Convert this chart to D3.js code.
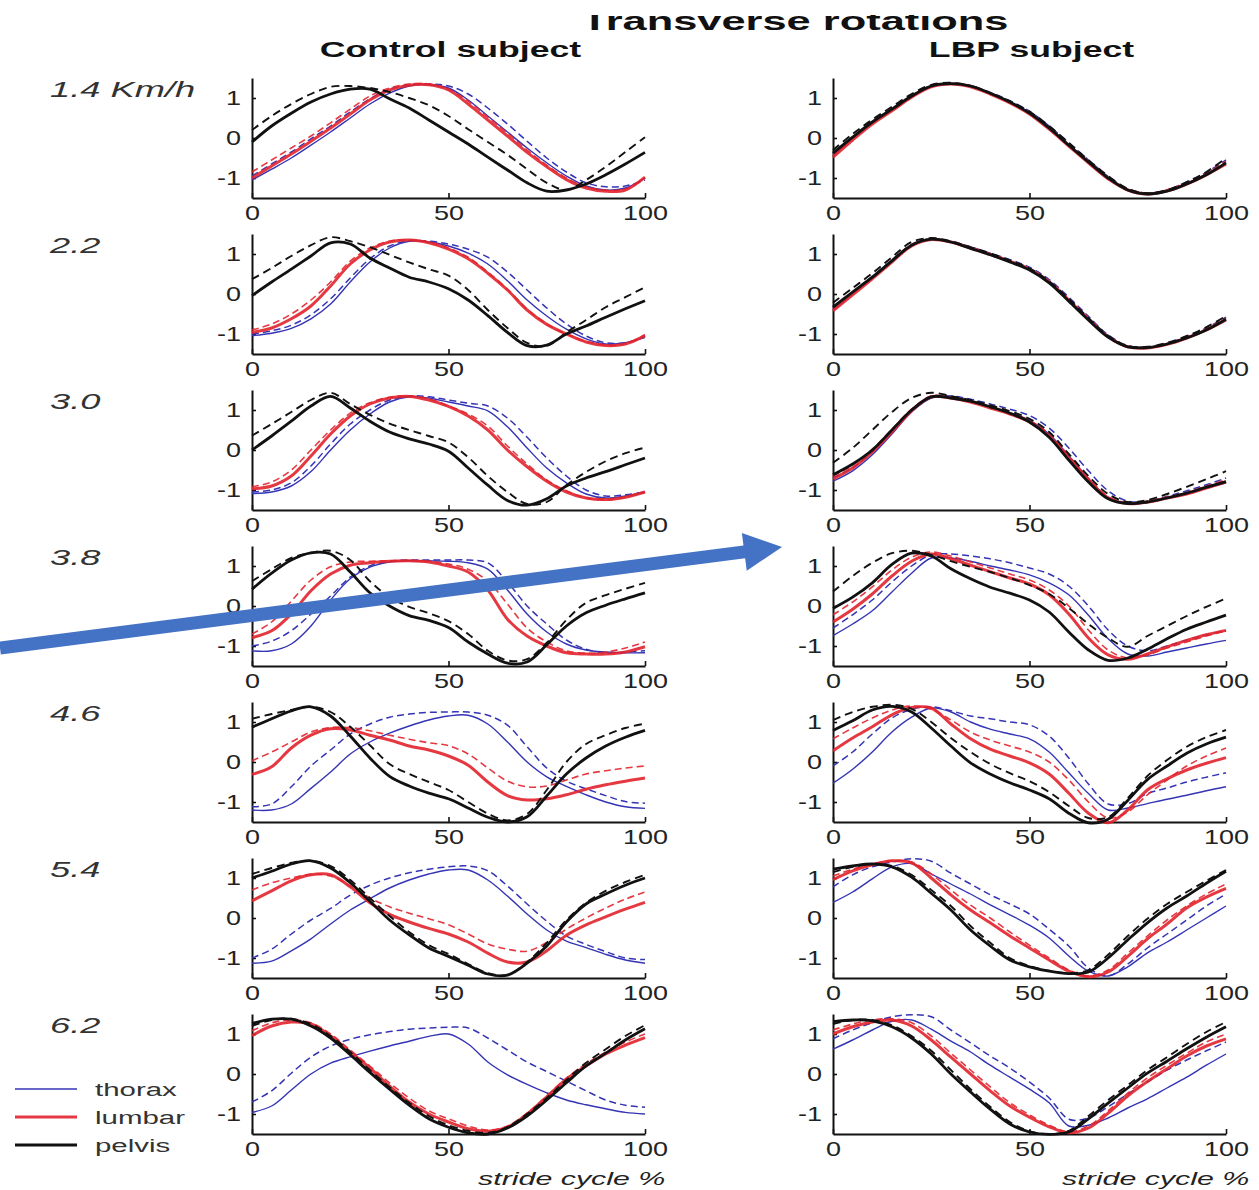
<!DOCTYPE html>
<html>
<head>
<meta charset="utf-8">
<script src="https://cdn.jsdelivr.net/npm/d3@7"></script>
<style>
  html, body { margin: 0; padding: 0; background: #fff; }
  svg { display: block; }
</style>
</head>
<body>
<svg id="chart" width="1259" height="1190"></svg>
<script>
// ---------------------------------------------------------------------------
// Data: transverse rotations (normalised) over the stride cycle, sampled every 5 %
// ---------------------------------------------------------------------------
const stridePct = [0,5,10,15,20,25,30,35,40,45,50,55,60,65,70,75,80,85,90,95,100];
const speeds = ["1.4 Km/h", "2.2", "3.0", "3.8", "4.6", "5.4", "6.2"];
const subjects = ["Control subject", "LBP subject"];
const segments = ["thorax", "lumbar", "pelvis"];
const xTicks = [0, 50, 100];
const xTickLabels = ["0", "50", "100"];
const yTicks = [-1, 0, 1];
const yTickLabels = ["-1", "0", "1"];

// Control subject (one row per walking speed)
const controlThorax = [
  [-1.05,-0.78,-0.5,-0.18,0.15,0.5,0.85,1.12,1.3,1.33,1.25,0.95,0.55,0.15,-0.25,-0.62,-0.95,-1.2,-1.3,-1.25,-1.0],
  [-1.04,-0.98,-0.86,-0.62,-0.25,0.3,0.8,1.15,1.32,1.3,1.2,1.02,0.75,0.33,-0.15,-0.55,-0.88,-1.12,-1.25,-1.22,-1.08],
  [-1.09,-1.05,-0.9,-0.54,0.0,0.5,0.9,1.2,1.33,1.3,1.2,1.1,0.98,0.58,0.05,-0.45,-0.82,-1.1,-1.2,-1.15,-1.05],
  [-1.12,-1.12,-0.95,-0.5,0.15,0.68,0.97,1.1,1.13,1.13,1.12,1.08,0.92,0.4,-0.2,-0.65,-0.95,-1.1,-1.15,-1.17,-1.17],
  [-1.2,-1.2,-1.05,-0.66,-0.25,0.2,0.5,0.72,0.9,1.05,1.15,1.17,0.95,0.5,0.0,-0.37,-0.61,-0.82,-1.0,-1.12,-1.16],
  [-1.13,-1.08,-0.82,-0.52,-0.15,0.2,0.48,0.75,0.95,1.1,1.2,1.2,0.95,0.55,0.1,-0.3,-0.58,-0.74,-0.91,-1.05,-1.13],
  [-0.96,-0.8,-0.4,0.0,0.27,0.43,0.57,0.7,0.82,0.94,1.0,0.75,0.3,-0.02,-0.26,-0.47,-0.65,-0.77,-0.87,-0.96,-1.0]
];
const controlThoraxDashed = [
  [-0.95,-0.65,-0.35,-0.02,0.3,0.65,0.98,1.22,1.33,1.35,1.3,1.1,0.75,0.35,-0.08,-0.5,-0.85,-1.12,-1.22,-1.2,-1.05],
  [-1.0,-0.92,-0.78,-0.52,-0.12,0.4,0.88,1.2,1.33,1.32,1.25,1.12,0.92,0.55,0.1,-0.35,-0.75,-1.05,-1.22,-1.22,-1.08],
  [-1.05,-1.0,-0.82,-0.4,0.15,0.65,1.0,1.25,1.35,1.33,1.25,1.17,1.1,0.8,0.32,-0.2,-0.65,-1.0,-1.15,-1.12,-1.05],
  [-1.0,-0.88,-0.62,-0.2,0.25,0.72,1.0,1.12,1.15,1.15,1.15,1.15,1.08,0.6,0.0,-0.45,-0.85,-1.08,-1.17,-1.15,-1.12],
  [-1.12,-1.05,-0.62,-0.1,0.3,0.7,0.95,1.12,1.2,1.24,1.25,1.25,1.17,0.92,0.38,-0.15,-0.48,-0.67,-0.84,-0.99,-1.03],
  [-1.0,-0.78,-0.4,-0.05,0.24,0.57,0.82,1.0,1.13,1.22,1.28,1.3,1.18,0.8,0.35,-0.08,-0.45,-0.66,-0.84,-1.0,-1.04],
  [-0.7,-0.42,0.02,0.42,0.7,0.87,0.98,1.06,1.12,1.15,1.17,1.15,0.9,0.6,0.3,0.06,-0.18,-0.42,-0.65,-0.78,-0.83]
];
const controlLumbar = [
  [-1.0,-0.7,-0.4,-0.08,0.25,0.6,0.95,1.2,1.32,1.33,1.2,0.85,0.45,0.05,-0.36,-0.72,-1.04,-1.25,-1.33,-1.3,-0.98],
  [-0.96,-0.85,-0.62,-0.3,0.2,0.75,1.1,1.3,1.35,1.28,1.12,0.88,0.52,0.1,-0.4,-0.76,-1.0,-1.2,-1.29,-1.25,-1.04],
  [-0.97,-0.9,-0.65,-0.15,0.4,0.85,1.15,1.3,1.34,1.25,1.09,0.85,0.5,0.0,-0.42,-0.78,-1.05,-1.2,-1.24,-1.18,-1.05],
  [-0.79,-0.62,-0.2,0.38,0.8,1.02,1.08,1.12,1.13,1.1,1.0,0.85,0.4,-0.33,-0.75,-1.0,-1.17,-1.2,-1.2,-1.15,-1.02],
  [-0.31,-0.12,0.35,0.67,0.83,0.8,0.67,0.55,0.4,0.3,0.15,-0.08,-0.5,-0.84,-0.95,-0.92,-0.82,-0.68,-0.57,-0.48,-0.4],
  [0.43,0.68,0.93,1.08,1.08,0.78,0.38,0.09,-0.1,-0.26,-0.4,-0.6,-0.88,-1.1,-1.1,-0.82,-0.43,-0.17,0.03,0.22,0.39],
  [0.96,1.2,1.3,1.25,0.95,0.55,0.15,-0.3,-0.7,-1.0,-1.2,-1.37,-1.43,-1.33,-1.0,-0.57,-0.13,0.2,0.5,0.72,0.91]
];
const controlLumbarDashed = [
  [-0.85,-0.55,-0.25,0.05,0.38,0.72,1.05,1.25,1.35,1.35,1.22,0.92,0.52,0.12,-0.3,-0.68,-1.0,-1.22,-1.3,-1.28,-1.0],
  [-0.9,-0.75,-0.5,-0.15,0.3,0.82,1.15,1.32,1.35,1.3,1.15,0.92,0.55,0.12,-0.38,-0.75,-1.0,-1.18,-1.28,-1.25,-1.02],
  [-0.92,-0.8,-0.5,0.0,0.5,0.92,1.18,1.32,1.35,1.28,1.1,0.9,0.6,0.1,-0.35,-0.75,-1.02,-1.2,-1.24,-1.18,-1.05],
  [-0.7,-0.4,0.12,0.65,0.98,1.1,1.12,1.13,1.13,1.12,1.05,0.92,0.62,0.05,-0.55,-0.9,-1.12,-1.18,-1.15,-1.05,-0.9],
  [0.03,0.25,0.5,0.75,0.86,0.86,0.78,0.67,0.57,0.48,0.41,0.2,-0.15,-0.48,-0.62,-0.6,-0.45,-0.3,-0.22,-0.15,-0.1],
  [0.7,0.88,1.0,1.09,1.05,0.8,0.5,0.28,0.12,-0.02,-0.17,-0.4,-0.65,-0.78,-0.83,-0.61,-0.28,0.0,0.25,0.47,0.65],
  [1.08,1.28,1.35,1.28,1.0,0.6,0.2,-0.22,-0.6,-0.92,-1.12,-1.3,-1.4,-1.3,-0.98,-0.55,-0.1,0.25,0.55,0.8,1.0]
];
const controlPelvis = [
  [-0.1,0.3,0.62,0.9,1.1,1.22,1.22,0.98,0.75,0.45,0.15,-0.15,-0.48,-0.8,-1.12,-1.33,-1.3,-1.15,-0.92,-0.65,-0.36],
  [-0.04,0.3,0.62,0.95,1.28,1.25,0.9,0.65,0.42,0.3,0.13,-0.15,-0.54,-0.96,-1.29,-1.28,-1.0,-0.8,-0.58,-0.37,-0.17],
  [0.0,0.35,0.72,1.1,1.34,1.05,0.72,0.45,0.28,0.15,-0.03,-0.45,-0.88,-1.26,-1.38,-1.22,-0.9,-0.7,-0.54,-0.37,-0.2],
  [0.42,0.82,1.15,1.33,1.3,0.85,0.33,0.0,-0.24,-0.36,-0.54,-0.9,-1.2,-1.43,-1.4,-0.97,-0.5,-0.17,0.02,0.18,0.33],
  [0.87,1.08,1.28,1.38,1.15,0.65,0.1,-0.36,-0.6,-0.78,-0.92,-1.15,-1.38,-1.5,-1.37,-0.85,-0.3,0.1,0.4,0.62,0.79],
  [1.0,1.17,1.35,1.43,1.25,0.88,0.42,-0.05,-0.42,-0.75,-0.96,-1.18,-1.4,-1.43,-1.13,-0.7,-0.1,0.35,0.6,0.82,1.0],
  [1.26,1.37,1.37,1.2,0.9,0.48,0.04,-0.38,-0.78,-1.12,-1.33,-1.47,-1.5,-1.35,-1.05,-0.65,-0.22,0.2,0.52,0.85,1.13]
];
const controlPelvisDashed = [
  [0.2,0.55,0.85,1.1,1.28,1.3,1.25,1.15,1.0,0.82,0.55,0.22,-0.1,-0.42,-0.78,-1.12,-1.3,-1.05,-0.72,-0.35,0.02],
  [0.37,0.65,0.95,1.22,1.42,1.32,1.17,0.98,0.79,0.62,0.46,0.1,-0.4,-0.85,-1.22,-1.3,-0.96,-0.65,-0.33,-0.08,0.17],
  [0.36,0.65,0.95,1.25,1.43,1.15,0.88,0.66,0.5,0.35,0.19,-0.18,-0.65,-1.05,-1.35,-1.3,-0.88,-0.55,-0.28,-0.08,0.06],
  [0.62,0.92,1.2,1.33,1.38,1.15,0.62,0.22,-0.02,-0.18,-0.38,-0.7,-1.12,-1.36,-1.33,-0.92,-0.35,0.08,0.27,0.43,0.58],
  [1.08,1.2,1.3,1.38,1.25,0.88,0.42,-0.05,-0.3,-0.5,-0.7,-1.0,-1.29,-1.46,-1.3,-0.7,0.0,0.45,0.67,0.85,0.96],
  [1.1,1.25,1.38,1.43,1.3,0.95,0.5,0.05,-0.35,-0.68,-0.9,-1.15,-1.38,-1.42,-1.1,-0.62,-0.05,0.38,0.68,0.9,1.08],
  [1.2,1.35,1.38,1.25,0.95,0.55,0.1,-0.33,-0.72,-1.05,-1.28,-1.42,-1.47,-1.33,-1.0,-0.6,-0.15,0.28,0.62,0.95,1.22]
];

// LBP subject (one row per walking speed)
const lbpThorax = [
  [-0.45,-0.02,0.38,0.7,1.03,1.28,1.35,1.29,1.11,0.89,0.62,0.24,-0.18,-0.6,-1.0,-1.3,-1.4,-1.32,-1.14,-0.9,-0.62],
  [-0.4,0.0,0.4,0.82,1.21,1.36,1.3,1.15,0.99,0.81,0.61,0.3,-0.16,-0.64,-1.08,-1.32,-1.35,-1.26,-1.1,-0.9,-0.64],
  [-0.78,-0.52,-0.12,0.4,0.95,1.3,1.32,1.22,1.08,0.93,0.74,0.4,-0.15,-0.72,-1.18,-1.34,-1.31,-1.2,-1.1,-0.96,-0.82],
  [-0.74,-0.45,-0.12,0.35,0.82,1.2,1.2,1.12,1.0,0.9,0.78,0.58,0.28,-0.23,-0.82,-1.2,-1.25,-1.15,-1.05,-0.95,-0.86],
  [-0.53,-0.18,0.25,0.75,1.12,1.35,1.25,1.0,0.82,0.7,0.58,0.25,-0.27,-0.79,-1.2,-1.15,-1.04,-0.93,-0.83,-0.72,-0.62],
  [0.39,0.65,0.98,1.28,1.36,1.1,0.85,0.6,0.33,0.08,-0.18,-0.5,-0.95,-1.33,-1.45,-1.22,-0.87,-0.6,-0.3,0.0,0.3],
  [0.62,0.85,1.1,1.32,1.35,1.12,0.82,0.55,0.22,-0.08,-0.38,-0.72,-1.3,-1.28,-1.1,-0.85,-0.62,-0.35,-0.08,0.22,0.5]
];
const lbpThoraxDashed = [
  [-0.4,0.02,0.4,0.72,1.05,1.3,1.37,1.31,1.14,0.93,0.67,0.3,-0.12,-0.55,-0.96,-1.27,-1.38,-1.3,-1.1,-0.86,-0.55],
  [-0.34,0.05,0.44,0.85,1.24,1.38,1.32,1.18,1.02,0.86,0.67,0.36,-0.08,-0.56,-1.02,-1.29,-1.33,-1.24,-1.06,-0.85,-0.58],
  [-0.7,-0.44,-0.05,0.48,1.0,1.33,1.35,1.27,1.15,1.02,0.86,0.55,0.05,-0.52,-1.02,-1.28,-1.28,-1.16,-1.02,-0.87,-0.7],
  [-0.55,-0.22,0.15,0.6,1.0,1.28,1.3,1.25,1.18,1.08,0.95,0.8,0.5,0.0,-0.6,-1.0,-1.12,-1.0,-0.85,-0.72,-0.62],
  [-0.1,0.25,0.7,1.1,1.32,1.38,1.28,1.15,1.08,1.0,0.93,0.65,0.1,-0.55,-1.05,-1.04,-0.79,-0.65,-0.5,-0.38,-0.27],
  [0.78,1.08,1.28,1.4,1.48,1.42,1.12,0.85,0.58,0.35,0.1,-0.28,-0.7,-1.25,-1.45,-1.15,-0.75,-0.4,-0.05,0.3,0.6],
  [0.88,1.1,1.28,1.43,1.48,1.43,1.1,0.78,0.45,0.15,-0.2,-0.6,-1.13,-1.1,-0.82,-0.5,-0.2,0.1,0.35,0.58,0.8]
];
const lbpLumbar = [
  [-0.48,-0.05,0.35,0.68,1.02,1.28,1.35,1.28,1.1,0.88,0.6,0.22,-0.2,-0.62,-1.02,-1.3,-1.4,-1.32,-1.15,-0.92,-0.65],
  [-0.42,-0.02,0.38,0.8,1.2,1.36,1.3,1.15,0.99,0.82,0.62,0.3,-0.15,-0.63,-1.07,-1.32,-1.35,-1.26,-1.1,-0.9,-0.65],
  [-0.72,-0.45,-0.05,0.45,0.98,1.33,1.3,1.2,1.05,0.9,0.7,0.35,-0.2,-0.75,-1.2,-1.34,-1.3,-1.2,-1.1,-0.95,-0.8],
  [-0.4,-0.08,0.3,0.75,1.12,1.3,1.18,1.02,0.86,0.7,0.55,0.28,-0.2,-0.8,-1.22,-1.33,-1.2,-1.02,-0.86,-0.72,-0.61],
  [0.28,0.6,0.88,1.18,1.36,1.35,0.95,0.58,0.32,0.15,-0.02,-0.3,-0.78,-1.28,-1.52,-1.2,-0.7,-0.42,-0.2,-0.03,0.11],
  [0.96,1.18,1.33,1.43,1.38,1.0,0.58,0.2,-0.12,-0.45,-0.75,-1.05,-1.33,-1.47,-1.35,-0.96,-0.52,-0.15,0.25,0.52,0.74],
  [1.0,1.18,1.3,1.35,1.2,0.85,0.42,0.0,-0.42,-0.8,-1.08,-1.32,-1.47,-1.35,-0.98,-0.55,-0.19,0.13,0.45,0.7,0.88]
];
const lbpLumbarDashed = [
  [-0.42,0.0,0.38,0.7,1.04,1.3,1.36,1.3,1.12,0.9,0.63,0.26,-0.15,-0.58,-0.98,-1.28,-1.38,-1.3,-1.12,-0.88,-0.58],
  [-0.36,0.03,0.42,0.84,1.23,1.37,1.31,1.16,1.0,0.83,0.63,0.32,-0.12,-0.6,-1.05,-1.3,-1.33,-1.24,-1.07,-0.86,-0.6],
  [-0.65,-0.38,0.02,0.52,1.02,1.35,1.32,1.23,1.08,0.93,0.74,0.4,-0.15,-0.7,-1.16,-1.32,-1.28,-1.18,-1.06,-0.9,-0.74],
  [-0.22,0.1,0.48,0.9,1.22,1.35,1.25,1.1,0.95,0.8,0.65,0.4,0.0,-0.6,-1.1,-1.3,-1.22,-1.05,-0.9,-0.75,-0.62],
  [0.58,0.85,1.1,1.3,1.4,1.32,1.05,0.75,0.55,0.4,0.25,0.0,-0.45,-1.0,-1.4,-1.25,-0.82,-0.45,-0.1,0.15,0.35],
  [1.05,1.22,1.35,1.43,1.4,1.1,0.7,0.32,0.0,-0.35,-0.68,-1.0,-1.3,-1.45,-1.3,-0.88,-0.45,-0.05,0.3,0.6,0.85],
  [1.1,1.25,1.35,1.38,1.28,0.95,0.52,0.1,-0.32,-0.72,-1.02,-1.28,-1.45,-1.3,-0.92,-0.48,-0.1,0.22,0.52,0.8,1.0]
];
const lbpPelvis = [
  [-0.38,0.02,0.4,0.72,1.05,1.3,1.36,1.3,1.12,0.9,0.62,0.25,-0.18,-0.6,-1.0,-1.3,-1.4,-1.33,-1.15,-0.92,-0.62],
  [-0.33,0.05,0.42,0.83,1.22,1.37,1.3,1.14,0.98,0.8,0.6,0.28,-0.18,-0.65,-1.08,-1.32,-1.34,-1.25,-1.1,-0.9,-0.63],
  [-0.62,-0.35,0.0,0.5,1.0,1.33,1.3,1.22,1.08,0.92,0.7,0.32,-0.25,-0.8,-1.22,-1.34,-1.3,-1.2,-1.08,-0.93,-0.79],
  [-0.06,0.22,0.58,1.04,1.32,1.25,0.93,0.68,0.47,0.32,0.15,-0.15,-0.65,-1.1,-1.36,-1.3,-1.08,-0.82,-0.58,-0.4,-0.23],
  [0.79,1.03,1.3,1.39,1.25,0.85,0.4,-0.02,-0.3,-0.52,-0.7,-0.92,-1.28,-1.52,-1.43,-0.96,-0.44,-0.1,0.22,0.45,0.62],
  [1.22,1.3,1.35,1.28,1.02,0.62,0.2,-0.3,-0.7,-1.05,-1.22,-1.33,-1.39,-1.35,-1.0,-0.55,-0.12,0.25,0.55,0.87,1.17],
  [1.31,1.35,1.33,1.18,0.9,0.5,0.0,-0.45,-0.88,-1.25,-1.45,-1.51,-1.45,-1.12,-0.73,-0.35,0.02,0.32,0.63,0.92,1.18]
];
const lbpPelvisDashed = [
  [-0.3,0.1,0.46,0.78,1.1,1.33,1.38,1.3,1.12,0.92,0.66,0.3,-0.12,-0.55,-0.95,-1.27,-1.38,-1.3,-1.1,-0.85,-0.5],
  [-0.22,0.15,0.52,0.92,1.3,1.4,1.32,1.17,1.02,0.84,0.64,0.32,-0.12,-0.6,-1.04,-1.3,-1.32,-1.22,-1.05,-0.83,-0.55],
  [-0.32,0.05,0.5,0.95,1.3,1.43,1.35,1.25,1.12,0.97,0.78,0.45,-0.1,-0.65,-1.1,-1.3,-1.25,-1.1,-0.92,-0.73,-0.53],
  [0.36,0.75,1.08,1.32,1.38,1.28,1.12,0.98,0.85,0.7,0.52,0.3,-0.05,-0.45,-0.8,-1.02,-0.75,-0.5,-0.25,-0.02,0.19],
  [1.05,1.25,1.38,1.43,1.33,1.0,0.6,0.25,-0.05,-0.28,-0.48,-0.75,-1.1,-1.4,-1.38,-0.9,-0.35,0.05,0.38,0.62,0.8],
  [1.15,1.28,1.35,1.3,1.08,0.7,0.3,-0.2,-0.62,-1.0,-1.2,-1.32,-1.38,-1.3,-0.92,-0.45,-0.02,0.35,0.65,0.93,1.2],
  [1.25,1.35,1.35,1.22,0.95,0.58,0.1,-0.38,-0.82,-1.2,-1.43,-1.5,-1.42,-1.05,-0.65,-0.28,0.1,0.42,0.75,1.05,1.3]
];

// Series per subject column: [solid, dashed] for each body segment
const columns = [
  { subject: subjects[0], series: {
      thorax: [controlThorax, controlThoraxDashed],
      lumbar: [controlLumbar, controlLumbarDashed],
      pelvis: [controlPelvis, controlPelvisDashed] } },
  { subject: subjects[1], series: {
      thorax: [lbpThorax, lbpThoraxDashed],
      lumbar: [lbpLumbar, lbpLumbarDashed],
      pelvis: [lbpPelvis, lbpPelvisDashed] } }
];

// ---------------------------------------------------------------------------
// Layout & styles
// ---------------------------------------------------------------------------
const FONT = "'Liberation Sans', Arial, Helvetica, sans-serif";
const colLeft = [252, 833];
const plotW = 393, plotH = 120;
const rowTop0 = 78, rowStep = 156;

const segStyle = {
  thorax: { color: "#3434b4", width: 1.4, dashWidth: 1.5, dash: "7,4", opacity: 1 },
  lumbar: { color: "#e2232e", width: 3.0, dashWidth: 1.6, dash: "7,4", opacity: 0.9 },
  pelvis: { color: "#111111", width: 2.8, dashWidth: 1.9, dash: "8,5", opacity: 1 }
};

const x = d3.scaleLinear().domain([0, 100]).range([0, plotW]);
const y = d3.scaleLinear().domain([-1.5, 1.5]).range([plotH, 0]);

const line = d3.line()
  .x((d, i) => x(stridePct[i]))
  .y(d => y(d))
  .curve(d3.curveCatmullRom.alpha(0.5));

const svg = d3.select("#chart");

// Horizontally stretched text helper (the figure uses wide lettering)
function wideText(parent, str, px, py, opt) {
  return parent.append("text")
    .attr("transform", `translate(${px},${py}) scale(${opt.sx},1)`)
    .attr("font-family", FONT)
    .attr("font-size", opt.size)
    .attr("font-weight", opt.weight || "normal")
    .attr("font-style", opt.style || "normal")
    .attr("text-anchor", opt.anchor || "start")
    .attr("fill", opt.fill || "#111")
    .text(str);
}

// ---------------------------------------------------------------------------
// Titles (the main title is cut along its top edge)
// ---------------------------------------------------------------------------
svg.append("clipPath").attr("id", "titleClip")
  .append("rect").attr("x", 0).attr("y", 15).attr("width", 1259).attr("height", 40);

wideText(svg.append("g").attr("clip-path", "url(#titleClip)"),
  "Transverse rotations", 795, 30, { size: 26, weight: "bold", sx: 1.67, anchor: "middle" });

columns.forEach((col, c) => {
  wideText(svg, col.subject, colLeft[c] + plotW / 2 + 2, 57,
    { size: 22, weight: "bold", sx: 1.62, anchor: "middle" });
});

// ---------------------------------------------------------------------------
// Panels
// ---------------------------------------------------------------------------
const TICK_SX = 1.35;

function drawAxes(g) {
  const gx = g.append("g")
    .attr("transform", `translate(0,${plotH})`)
    .call(d3.axisBottom(x).tickValues(xTicks)
      .tickFormat((d, i) => xTickLabels[i])
      .tickSize(-5).tickSizeOuter(0).tickPadding(8));
  const gy = g.append("g")
    .call(d3.axisLeft(y).tickValues(yTicks)
      .tickFormat((d, i) => yTickLabels[i])
      .tickSize(-4).tickSizeOuter(0).tickPadding(11));
  [gx, gy].forEach(a => {
    a.attr("font-family", FONT).attr("font-size", 20);
    a.select(".domain").attr("stroke", "#111").attr("stroke-width", 2);
    a.selectAll(".tick line").attr("stroke", "#111").attr("stroke-width", 1.6);
    a.selectAll(".tick text").attr("fill", "#222");
  });
  gx.selectAll(".tick text").attr("transform", `scale(${TICK_SX},1)`);
  gy.selectAll(".tick text").attr("x", -11 / TICK_SX).attr("transform", `scale(${TICK_SX},1)`);
}

speeds.forEach((speed, r) => {
  const top = rowTop0 + r * rowStep;

  wideText(svg, speed, 50, top + 19, { size: 22, style: "italic", sx: 1.65, fill: "#333" });

  columns.forEach((col, c) => {
    const g = svg.append("g").attr("transform", `translate(${colLeft[c]},${top})`);
    drawAxes(g);

    const lines = g.append("g").attr("fill", "none")
      .attr("stroke-linejoin", "round");

    segments.forEach(seg => {
      const st = segStyle[seg];
      const [solid, dashed] = col.series[seg];
      lines.append("path")
        .attr("d", line(dashed[r]))
        .attr("stroke", st.color)
        .attr("stroke-width", st.dashWidth)
        .attr("stroke-dasharray", st.dash)
        .attr("opacity", st.opacity);
      lines.append("path")
        .attr("d", line(solid[r]))
        .attr("stroke", st.color)
        .attr("stroke-width", st.width)
        .attr("opacity", st.opacity);
    });
  });
});

// x-axis captions under the bottom row
wideText(svg, "stride cycle %", 478, 1185, { size: 19, style: "italic", sx: 1.6, fill: "#222" });
wideText(svg, "stride cycle %", 1062, 1185, { size: 19, style: "italic", sx: 1.6, fill: "#222" });

// ---------------------------------------------------------------------------
// Legend
// ---------------------------------------------------------------------------
const legend = svg.append("g").attr("transform", "translate(15,1089)");
segments.forEach((seg, i) => {
  const st = segStyle[seg];
  const ly = i * 28;
  legend.append("line")
    .attr("x1", 0).attr("x2", 62).attr("y1", ly).attr("y2", ly)
    .attr("stroke", st.color)
    .attr("stroke-width", seg === "thorax" ? 1.6 : 3)
    .attr("opacity", st.opacity);
  wideText(legend, seg, 80, ly + 7, { size: 19, sx: 1.55, fill: "#333" });
});

// ---------------------------------------------------------------------------
// Call-out arrow linking the 3.8 Km/h panels
// ---------------------------------------------------------------------------
const arrowStart = [0, 648], arrowTip = [782, 547];
const shaftHalf = 6.5, headHalf = 19, headLen = 38;
(function drawArrow() {
  const dx = arrowTip[0] - arrowStart[0], dy = arrowTip[1] - arrowStart[1];
  const len = Math.hypot(dx, dy);
  const ux = dx / len, uy = dy / len, nx = -uy, ny = ux;
  const bx = arrowTip[0] - ux * headLen, by = arrowTip[1] - uy * headLen;
  const pts = [
    [arrowStart[0] + nx * shaftHalf, arrowStart[1] + ny * shaftHalf],
    [bx + nx * shaftHalf, by + ny * shaftHalf],
    [bx + nx * headHalf, by + ny * headHalf],
    arrowTip,
    [bx - nx * headHalf, by - ny * headHalf],
    [bx - nx * shaftHalf, by - ny * shaftHalf],
    [arrowStart[0] - nx * shaftHalf, arrowStart[1] - ny * shaftHalf]
  ];
  svg.append("polygon")
    .attr("points", pts.map(p => p.join(",")).join(" "))
    .attr("fill", "#4472c4");
})();
</script>
</body>
</html>
